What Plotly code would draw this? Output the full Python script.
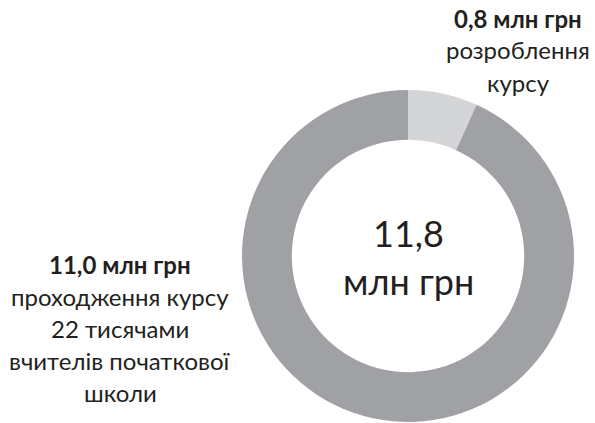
import plotly.graph_objects as go

W, H = 595, 423

labels = ["розроблення курсу", "проходження курсу"]
values = [0.8, 11.0]
colors = ["#d4d5d7", "#a0a1a4"]

center_lines = ["11,8", "млн грн"]
left_lines = ["<b>11,0 млн грн</b>", "проходження курсу", "22 тисячами",
              "вчителів початкової", "школи"]
right_lines = ["<b>0,8 млн грн</b>", "розроблення", "курсу"]

FONT = "Lato"
TXT = "#231f20"

# target geometry in window pixels
cx, cy, r = 408, 256, 166


def px(x):
    return x / W


def py(y):
    return 1 - y / H


fig = go.Figure(go.Pie(
    labels=labels, values=values, hole=0.70, sort=False,
    direction="clockwise", rotation=0,
    marker=dict(colors=colors, line=dict(width=0)),
    textinfo="none", hoverinfo="skip", showlegend=False,
    domain=dict(x=[px(cx - r), px(cx + r)],
                y=[py(cy + r), py(cy - r)]),
))

anns = []
for t, y in zip(center_lines, [233, 281]):
    anns.append(dict(text=t, x=px(cx), y=py(y), xref="paper", yref="paper",
                     xanchor="center", yanchor="middle", showarrow=False,
                     font=dict(family=FONT, size=36, color=TXT)))
for t, y in zip(left_lines, [264, 296, 328, 360, 392]):
    anns.append(dict(text=t, x=px(120), y=py(y), xref="paper", yref="paper",
                     xanchor="center", yanchor="middle", showarrow=False,
                     font=dict(family=FONT, size=24, color=TXT)))
for t, y in zip(right_lines, [19, 50, 82]):
    anns.append(dict(text=t, x=px(518), y=py(y), xref="paper", yref="paper",
                     xanchor="center", yanchor="middle", showarrow=False,
                     font=dict(family=FONT, size=24, color=TXT)))

fig.update_layout(width=W, height=H, margin=dict(l=0, r=0, t=0, b=0),
                  paper_bgcolor="white", plot_bgcolor="white",
                  annotations=anns)

fig.write_html("out.html",
               config={"displayModeBar": False, "staticPlot": True},
               post_script="document.body.style.margin='0';"
                           "document.body.style.overflow='hidden';")
